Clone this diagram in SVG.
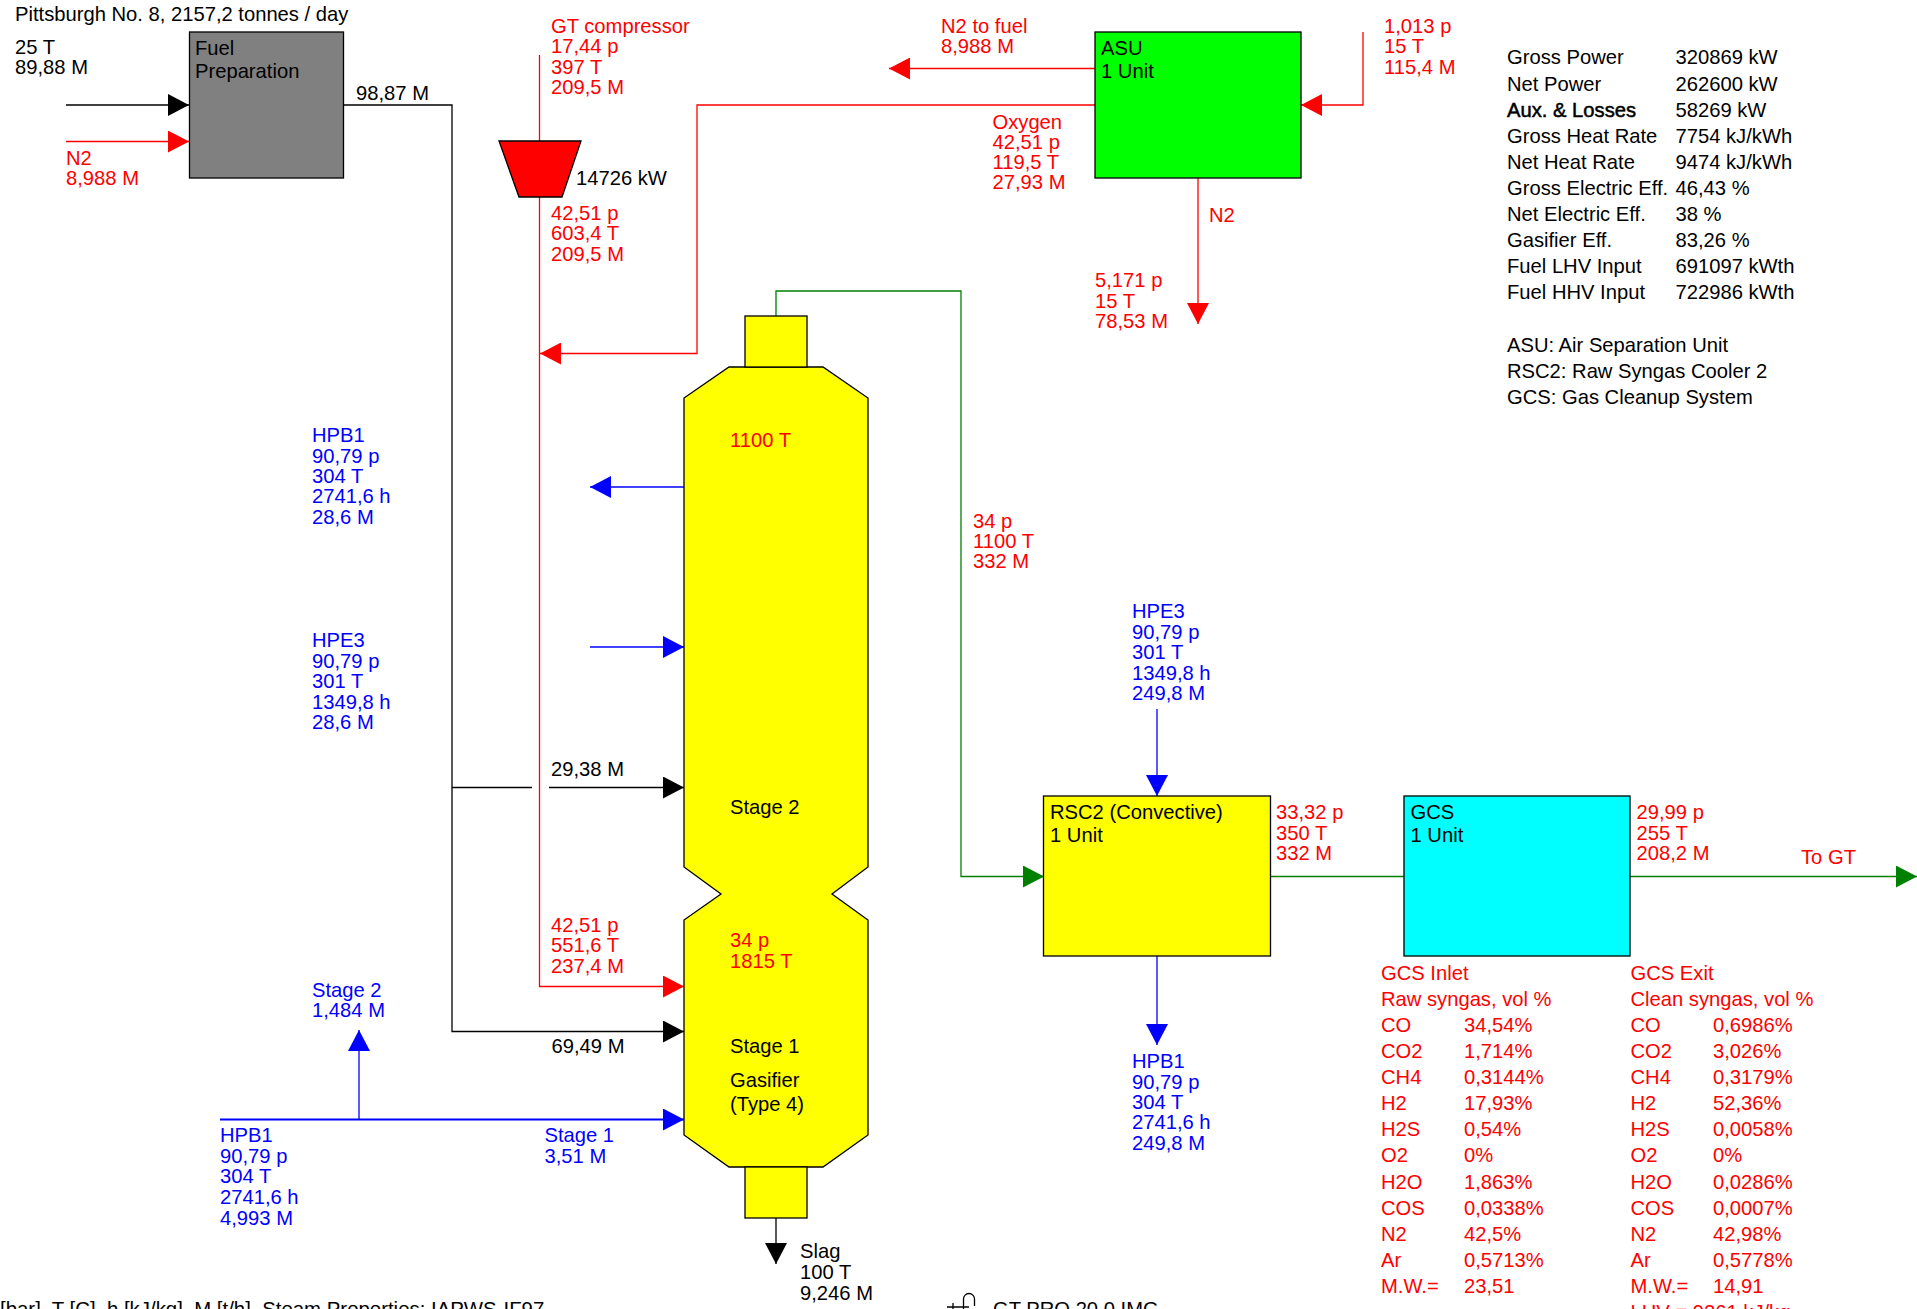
<svg xmlns="http://www.w3.org/2000/svg" width="1917" height="1309" viewBox="0 0 1917 1309">
<style>
text{font-family:"Liberation Sans",Arial,sans-serif;font-size:20.2px;fill:#000}
.r text,text.r{fill:#f00}
.b text,text.b{fill:#00f}
.box{stroke:#000;stroke-width:1.3}
.c{fill:none;stroke-width:1.3}
.k{stroke:#000}.rd{stroke:#f00}.bl{stroke:#00f}.gr{stroke:#008000}
</style>
<defs>
<marker id="ak" markerUnits="userSpaceOnUse" markerWidth="22" markerHeight="22" refX="21" refY="11" orient="auto"><path d="M0 0L21 11L0 22z" fill="#000"/></marker>
<marker id="ar" markerUnits="userSpaceOnUse" markerWidth="22" markerHeight="22" refX="21" refY="11" orient="auto"><path d="M0 0L21 11L0 22z" fill="#f00"/></marker>
<marker id="ab" markerUnits="userSpaceOnUse" markerWidth="22" markerHeight="22" refX="21" refY="11" orient="auto"><path d="M0 0L21 11L0 22z" fill="#00f"/></marker>
<marker id="ag" markerUnits="userSpaceOnUse" markerWidth="22" markerHeight="22" refX="21" refY="11" orient="auto"><path d="M0 0L21 11L0 22z" fill="#008000"/></marker>
</defs>
<rect width="1917" height="1309" fill="#fff"/>
<g id="connectors">
<path class="c k" d="M66 105H189" marker-end="url(#ak)"/>
<path class="c rd" d="M66 141.500H189" marker-end="url(#ar)"/>
<path class="c k" d="M344 105H452V1031.500H684" marker-end="url(#ak)"/>
<path class="c k" d="M452 787.500H532"/>
<path class="c k" d="M549 787.500H684" marker-end="url(#ak)"/>
<path class="c rd" d="M539.500 55V141"/>
<path class="c rd" d="M539.500 197V986.500H684" marker-end="url(#ar)"/>
<path class="c rd" d="M1095 105H697V353.500H540" marker-end="url(#ar)"/>
<path class="c rd" d="M1095 68.500H889" marker-end="url(#ar)"/>
<path class="c rd" d="M1363 32V105H1301" marker-end="url(#ar)"/>
<path class="c rd" d="M1198 178V324" marker-end="url(#ar)"/>
<path class="c gr" d="M776 316V291H961V876.500H1044" marker-end="url(#ag)"/>
<path class="c gr" d="M1271 876.500H1404"/>
<path class="c gr" d="M1630 876.500H1917" marker-end="url(#ag)"/>
<path class="c bl" d="M1157 709V796" marker-end="url(#ab)"/>
<path class="c bl" d="M1157 956V1045" marker-end="url(#ab)"/>
<path class="c bl" d="M684 487H590" marker-end="url(#ab)"/>
<path class="c bl" d="M590 647H684" marker-end="url(#ab)"/>
<path class="c bl" style="stroke-width:2" d="M220 1119.500H684" marker-end="url(#ab)"/>
<path class="c bl" d="M359 1119V1030" marker-end="url(#ab)"/>
<path class="c k" d="M776 1218V1264" marker-end="url(#ak)"/>
</g>
<g id="fuel-preparation">
<rect class="box" x="189.500" y="32" width="154" height="146" fill="#808080"/>
<text x="195" y="54.500">Fuel</text><text x="195" y="77.500">Preparation</text>
</g>
<g id="gt-compressor">
<path class="box" d="M499 141H581L562 197H519z" fill="#f00"/>
<text x="576" y="184.500">14726 kW</text>
</g>
<g id="asu">
<rect class="box" x="1095" y="32" width="206" height="146" fill="#0f0"/>
<text x="1101" y="54.500">ASU</text><text x="1101" y="77.500">1 Unit</text>
</g>
<g id="gasifier">
<path class="box" d="M729 367H823L868 398V867L832 894L868 920V1135L823 1167H729L684 1135V920L721 894L684 867V398z" fill="#ff0"/>
<rect class="box" x="745" y="316" width="62" height="51" fill="#ff0"/>
<rect class="box" x="745" y="1167" width="62" height="51" fill="#ff0"/>
<text class="r" x="730" y="446.500">1100 T</text>
<text x="730" y="813.500">Stage 2</text>
<text class="r" x="730" y="947">34 p</text><text class="r" x="730" y="967.500">1815 T</text>
<text x="730" y="1053">Stage 1</text>
<text x="730" y="1087">Gasifier</text><text x="730" y="1110.500">(Type 4)</text>
</g>
<g id="rsc2">
<rect class="box" x="1043.500" y="796" width="227" height="160" fill="#ff0"/>
<text x="1050" y="819">RSC2 (Convective)</text><text x="1050" y="842">1 Unit</text>
</g>
<g id="gcs">
<rect class="box" x="1404" y="796" width="226" height="160" fill="#0ff"/>
<text x="1410.500" y="819">GCS</text><text x="1410.500" y="842">1 Unit</text>
</g>
<g id="labels-black">
<text x="15" y="21">Pittsburgh No. 8, 2157,2 tonnes / day</text>
<text x="15" y="53.500">25 T</text><text x="15" y="73.500">89,88 M</text>
<text x="356" y="100">98,87 M</text>
<text x="551" y="776">29,38 M</text>
<text x="551.500" y="1053">69,49 M</text>
<text x="800" y="1258">Slag</text><text x="800" y="1278.500">100 T</text><text x="800" y="1299.500">9,246 M</text>
<text x="0" y="1316" style="font-size:20.4px">[bar], T [C], h [kJ/kg], M [t/h], Steam Properties: IAPWS-IF97</text>
<text x="993" y="1316">GT PRO 20.0 IMG</text>
</g>
<g id="logo" fill="none" stroke="#000" stroke-width="1.3">
<path d="M947 1307H969M953 1303V1309M963.500 1309V1299A5.500 5.500 0 0 1 974.500 1299V1306"/>
</g>
<g id="labels-red" class="r">
<text x="66" y="165">N2</text><text x="66" y="185">8,988 M</text>
<text x="551" y="33">GT compressor</text><text x="551" y="53">17,44 p</text><text x="551" y="73.500">397 T</text><text x="551" y="94">209,5 M</text>
<text x="551" y="220">42,51 p</text><text x="551" y="240">603,4 T</text><text x="551" y="260.500">209,5 M</text>
<text x="551" y="932">42,51 p</text><text x="551" y="952">551,6 T</text><text x="551" y="972.500">237,4 M</text>
<text x="941" y="33">N2 to fuel</text><text x="941" y="53">8,988 M</text>
<text x="1384" y="33">1,013 p</text><text x="1384" y="53">15 T</text><text x="1384" y="74">115,4 M</text>
<text x="992.500" y="128.500">Oxygen</text><text x="992.500" y="148.500">42,51 p</text><text x="992.500" y="168.500">119,5 T</text><text x="992.500" y="189">27,93 M</text>
<text x="1209" y="222">N2</text>
<text x="1095" y="287">5,171 p</text><text x="1095" y="308">15 T</text><text x="1095" y="328">78,53 M</text>
<text x="973" y="527.500">34 p</text><text x="973" y="548">1100 T</text><text x="973" y="568">332 M</text>
<text x="1276" y="819">33,32 p</text><text x="1276" y="839.500">350 T</text><text x="1276" y="860">332 M</text>
<text x="1636.500" y="819">29,99 p</text><text x="1636.500" y="839.500">255 T</text><text x="1636.500" y="860">208,2 M</text>
<text x="1801" y="864">To GT</text>
</g>
<g id="labels-blue" class="b">
<text x="312" y="441.500">HPB1</text><text x="312" y="462.500">90,79 p</text><text x="312" y="482.500">304 T</text><text x="312" y="502.500">2741,6 h</text><text x="312" y="523.500">28,6 M</text>
<text x="312" y="647">HPE3</text><text x="312" y="667.500">90,79 p</text><text x="312" y="688">301 T</text><text x="312" y="708.500">1349,8 h</text><text x="312" y="729">28,6 M</text>
<text x="1132" y="617.500">HPE3</text><text x="1132" y="638.500">90,79 p</text><text x="1132" y="659">301 T</text><text x="1132" y="680">1349,8 h</text><text x="1132" y="700">249,8 M</text>
<text x="1132" y="1067.500">HPB1</text><text x="1132" y="1088.500">90,79 p</text><text x="1132" y="1108.500">304 T</text><text x="1132" y="1129">2741,6 h</text><text x="1132" y="1149.500">249,8 M</text>
<text x="312" y="996.500">Stage 2</text><text x="312" y="1017">1,484 M</text>
<text x="220" y="1141.500">HPB1</text><text x="220" y="1163">90,79 p</text><text x="220" y="1183">304 T</text><text x="220" y="1204">2741,6 h</text><text x="220" y="1225">4,993 M</text>
<text x="544.500" y="1141.500">Stage 1</text><text x="544.500" y="1163">3,51 M</text>
</g>
<g id="summary">
<text x="1507" y="64">Gross Power</text><text x="1675.500" y="64">320869 kW</text>
<text x="1507" y="91">Net Power</text><text x="1675.500" y="91">262600 kW</text>
<text x="1507" y="117" style="stroke:#000;stroke-width:.5">Aux. &amp; Losses</text><text x="1675.500" y="117">58269 kW</text>
<text x="1507" y="143">Gross Heat Rate</text><text x="1675.500" y="143">7754 kJ/kWh</text>
<text x="1507" y="169">Net Heat Rate</text><text x="1675.500" y="169">9474 kJ/kWh</text>
<text x="1507" y="195">Gross Electric Eff.</text><text x="1675.500" y="195">46,43 %</text>
<text x="1507" y="221">Net Electric Eff.</text><text x="1675.500" y="221">38 %</text>
<text x="1507" y="247">Gasifier Eff.</text><text x="1675.500" y="247">83,26 %</text>
<text x="1507" y="273">Fuel LHV Input</text><text x="1675.500" y="273">691097 kWth</text>
<text x="1507" y="299">Fuel HHV Input</text><text x="1675.500" y="299">722986 kWth</text>
<text x="1507" y="352">ASU: Air Separation Unit</text>
<text x="1507" y="378">RSC2: Raw Syngas Cooler 2</text>
<text x="1507" y="404">GCS: Gas Cleanup System</text>
</g>
<g id="gcs-inlet" class="r">
<text x="1381" y="980">GCS Inlet</text><text x="1381" y="1006">Raw syngas, vol %</text>
<text x="1381" y="1032">CO</text><text x="1464" y="1032">34,54%</text>
<text x="1381" y="1058">CO2</text><text x="1464" y="1058">1,714%</text>
<text x="1381" y="1084">CH4</text><text x="1464" y="1084">0,3144%</text>
<text x="1381" y="1110">H2</text><text x="1464" y="1110">17,93%</text>
<text x="1381" y="1136">H2S</text><text x="1464" y="1136">0,54%</text>
<text x="1381" y="1162">O2</text><text x="1464" y="1162">0%</text>
<text x="1381" y="1189">H2O</text><text x="1464" y="1189">1,863%</text>
<text x="1381" y="1215">COS</text><text x="1464" y="1215">0,0338%</text>
<text x="1381" y="1241">N2</text><text x="1464" y="1241">42,5%</text>
<text x="1381" y="1267">Ar</text><text x="1464" y="1267">0,5713%</text>
<text x="1381" y="1293">M.W.=</text><text x="1464" y="1293">23,51</text>
</g>
<g id="gcs-exit" class="r">
<text x="1630.500" y="980">GCS Exit</text><text x="1630.500" y="1006">Clean syngas, vol %</text>
<text x="1630.500" y="1032">CO</text><text x="1713" y="1032">0,6986%</text>
<text x="1630.500" y="1058">CO2</text><text x="1713" y="1058">3,026%</text>
<text x="1630.500" y="1084">CH4</text><text x="1713" y="1084">0,3179%</text>
<text x="1630.500" y="1110">H2</text><text x="1713" y="1110">52,36%</text>
<text x="1630.500" y="1136">H2S</text><text x="1713" y="1136">0,0058%</text>
<text x="1630.500" y="1162">O2</text><text x="1713" y="1162">0%</text>
<text x="1630.500" y="1189">H2O</text><text x="1713" y="1189">0,0286%</text>
<text x="1630.500" y="1215">COS</text><text x="1713" y="1215">0,0007%</text>
<text x="1630.500" y="1241">N2</text><text x="1713" y="1241">42,98%</text>
<text x="1630.500" y="1267">Ar</text><text x="1713" y="1267">0,5778%</text>
<text x="1630.500" y="1293">M.W.=</text><text x="1713" y="1293">14,91</text>
<text x="1630.500" y="1319">LHV = 9261 kJ/kg</text>
</g>
</svg>
